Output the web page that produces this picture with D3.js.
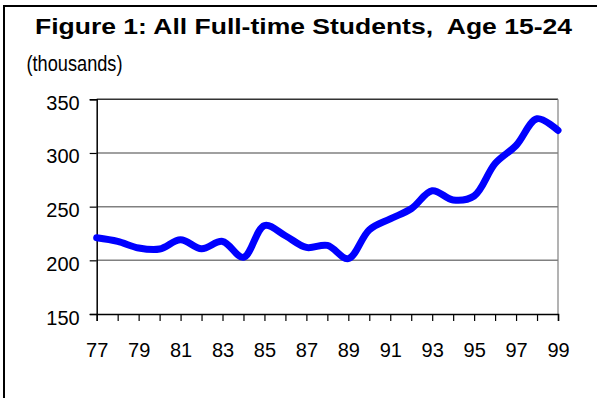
<!DOCTYPE html>
<html>
<head>
<meta charset="utf-8">
<script src="https://cdn.jsdelivr.net/npm/d3@7"></script>
<style>
  html, body { margin: 0; padding: 0; background: #fff; }
  svg { display: block; }
  text { font-family: "Liberation Sans", Arial, sans-serif; fill: #000; }
</style>
</head>
<body>
<script>
// ---- data ----
const years = [77,78,79,80,81,82,83,84,85,86,87,88,89,90,91,92,93,94,95,96,97,98,99];
const students = [221,217.6,211.5,210.5,219.2,210.8,217.6,202.8,232.4,222.9,212,213.9,201.6,228.4,238.6,248,264.8,256.2,259.9,290.2,307,331.9,321];
const yTicks = [150,200,250,300,350];
const xLabelYears = [77,79,81,83,85,87,89,91,93,95,97,99];
const titleText = "Figure 1: All Full-time Students,  Age 15-24";
const unitText = "(thousands)";

// ---- layout ----
const W = 597, H = 398;
const plot = {left: 96.7, right: 558, top: 99.3, bottom: 314};

const svg = d3.select("body").append("svg").attr("width", W).attr("height", H);

// outer frame (only left and top visible)
svg.append("rect")
  .attr("x", 4).attr("y", 6)
  .attr("width", W + 10).attr("height", H + 10)
  .attr("fill", "none").attr("stroke", "#000").attr("stroke-width", 2);

const x = d3.scaleLinear().domain([77, 99]).range([plot.left, plot.right]);
const y = d3.scaleLinear().domain([150, 350]).range([plot.bottom, plot.top]);

// gridlines
svg.append("g").selectAll("line").data(yTicks.filter(d => d > 150)).join("line")
  .attr("x1", plot.left).attr("x2", plot.right)
  .attr("y1", d => y(d)).attr("y2", d => y(d))
  .attr("stroke", d => d === 350 ? "#333" : "#808080")
  .attr("stroke-width", 1.5);

// right border of plot area
svg.append("line")
  .attr("x1", plot.right).attr("x2", plot.right)
  .attr("y1", plot.top).attr("y2", plot.bottom)
  .attr("stroke", "#808080").attr("stroke-width", 1.2);

// y axis
const yAxis = d3.axisLeft(y).tickValues(yTicks).tickSize(7).tickPadding(10).tickFormat(d3.format("d"));
const gy = svg.append("g").attr("transform", `translate(${plot.left},0)`).call(yAxis);
gy.select(".domain").attr("stroke", "#000").attr("stroke-width", 1.5);
gy.selectAll(".tick line").attr("stroke", "#000").attr("stroke-width", 1.2);
gy.selectAll(".tick text")
  .style("font-family", '"Liberation Sans", Arial, sans-serif')
  .style("font-size", "20px")
  .attr("dy", "0.5em");

// x axis
const xAxis = d3.axisBottom(x).tickValues(years).tickSize(7).tickFormat(d => xLabelYears.includes(d) ? d : "").tickPadding(22);
const gx = svg.append("g").attr("transform", `translate(0,${plot.bottom})`).call(xAxis);
gx.select(".domain").attr("stroke", "#000").attr("stroke-width", 1.5);
gx.selectAll(".tick line").attr("stroke", "#000").attr("stroke-width", 1.2);
gx.selectAll(".tick text")
  .style("font-family", '"Liberation Sans", Arial, sans-serif')
  .style("font-size", "20px");

// line
const line = d3.line()
  .x((d, i) => x(years[i]))
  .y(d => y(d))
  .curve(d3.curveCatmullRom.alpha(0.5));
svg.append("path")
  .datum(students)
  .attr("d", line)
  .attr("fill", "none")
  .attr("stroke", "#0000ff")
  .attr("stroke-width", 7)
  .attr("stroke-linecap", "round")
  .attr("stroke-linejoin", "round");

// title
svg.append("text")
  .attr("x", 35).attr("y", 33.5)
  .attr("font-size", 22.5).attr("font-weight", "bold")
  .attr("textLength", 537).attr("lengthAdjust", "spacingAndGlyphs")
  .style("white-space", "pre")
  .text(titleText);

svg.append("text")
  .attr("x", 26.5).attr("y", 70.5)
  .attr("font-size", 21.5)
  .attr("textLength", 96).attr("lengthAdjust", "spacingAndGlyphs")
  .text(unitText);
</script>
</body>
</html>
